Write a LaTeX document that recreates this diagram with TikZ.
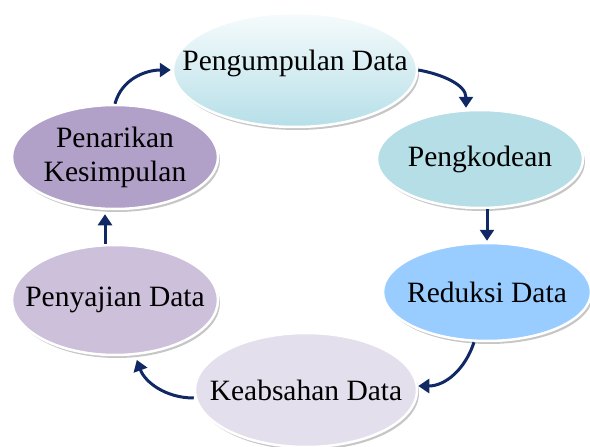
\documentclass[tikz,border=0pt]{standalone}
\usepackage{fontspec}
\setmainfont{Liberation Serif}
\usepackage{tikz}
\usetikzlibrary{arrows.meta,shapes,positioning,shadows}
\usepackage{xcolor}
\definecolor{cynavy}{RGB}{16,40,100}
\definecolor{cywhitecyan}{RGB}{246,251,252}
\definecolor{cyaqua}{RGB}{182,223,232}
\definecolor{cypaleblue}{RGB}{182,222,230}
\definecolor{cyskyblue}{RGB}{153,204,255}
\definecolor{cylilac}{RGB}{228,223,236}
\definecolor{cylavender}{RGB}{204,192,218}
\definecolor{cypurple}{RGB}{177,160,199}
\tikzstyle{cyclearrow} = [line width=3pt,-{Triangle[width=14pt,length=11pt]},color=cynavy]
\tikzstyle{stage} = [ellipse, draw=white, line width=2.5pt, inner xsep=-32pt, inner ysep=-8pt, align=center, font=\fontsize{29.5}{34}\selectfont, drop shadow={shadow xshift=2pt, shadow yshift=-3pt, fill=black!50, opacity=0.45}]

\begin{document}
\begin{tikzpicture}[x=1pt,y=1pt]
    \useasboundingbox (0,0) rectangle (590,-447);

    % Top - start of the cycle
    \node[stage, minimum width=244pt, minimum height=114pt, text depth=20pt, top color=cywhitecyan, bottom color=cyaqua] (kumpul) at (295,-70) {Pengumpulan Data};

    % Right side
    \node[stage, minimum width=206pt, minimum height=98pt, fill=cypaleblue] (kode) at (480,-159) {Pengkodean};
    \node[stage, minimum width=208pt, minimum height=98pt, fill=cyskyblue] (reduksi) at (487,-292) {Reduksi Data};

    % Bottom
    \node[stage, minimum width=222pt, minimum height=114pt, fill=cylilac] (absah) at (306,-390) {Keabsahan Data};

    % Left side
    \node[stage, minimum width=206pt, minimum height=110pt, fill=cylavender] (saji) at (115,-300) {Penyajian Data};
    \node[stage, minimum width=206pt, minimum height=104pt, fill=cypurple] (tarik) at (115,-157) {Penarikan\\Kesimpulan};

    % Connections
    \draw[cyclearrow, shorten >=1pt] (kumpul.east) to[out=-10,in=90] ([xshift=-14pt]kode.north);
    \draw[cyclearrow, shorten >=1pt] ([xshift=7pt]kode.south) -- (reduksi.north);
    \draw[cyclearrow] ([xshift=-13pt]reduksi.south) to[out=-108,in=0] ([yshift=4pt]absah.east);
    \draw[cyclearrow, shorten >=5pt] ([yshift=-8pt]absah.west) to[out=180,in=-70] (saji.-70);
    \draw[cyclearrow, shorten >=4pt] ([xshift=-10pt]saji.north) -- ([xshift=-10pt]tarik.south);
    \draw[cyclearrow, shorten >=1pt] (tarik.north) to[out=75,in=180] (kumpul.west);
\end{tikzpicture}
\end{document}
